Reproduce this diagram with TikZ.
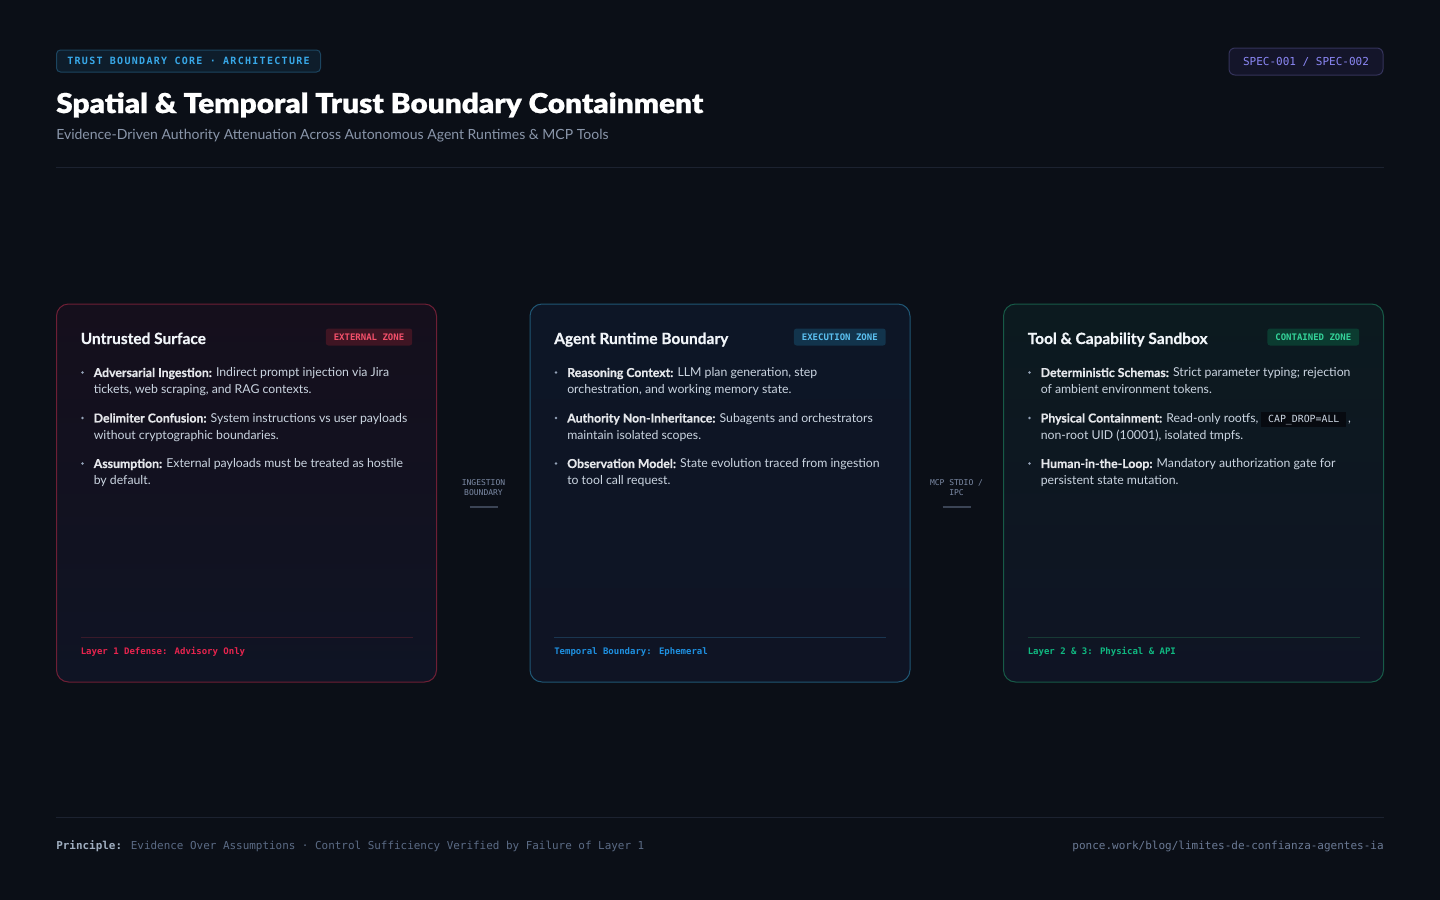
\documentclass[tikz,border=0pt]{standalone}
\usepackage{fontspec}
\setmainfont{Lato}[BoldFeatures={FakeBold=0.6}]
\newfontfamily\titlefont{Lato Black}[FakeStretch=1.09,FakeBold=0.8]
\newfontfamily\mono{DejaVu Sans Mono}
\newfontfamily\monosp[LetterSpace=13]{DejaVu Sans Mono}
\usetikzlibrary{calc}
\definecolor{bg}{HTML}{0B0F17}
\definecolor{sepline}{HTML}{1C2230}
\definecolor{subtxt}{HTML}{8A96AA}
\definecolor{cardtitle}{HTML}{F1F5F9}
\definecolor{bodytxt}{HTML}{CBD5E1}
\definecolor{boldtxt}{HTML}{E5E7EB}
\definecolor{dot}{HTML}{94A3B8}
\definecolor{redb}{HTML}{6E1F35}
\definecolor{redtop}{HTML}{150F1C}
\definecolor{redsep}{HTML}{3A1A2A}
\definecolor{redtxt}{HTML}{E8244E}
\definecolor{redbadge}{HTML}{3F1523}
\definecolor{redbadgetxt}{HTML}{F4506A}
\definecolor{blueb}{HTML}{1F5674}
\definecolor{bluetop}{HTML}{0D1626}
\definecolor{bluesep}{HTML}{1A3650}
\definecolor{bluetxt}{HTML}{1E90E0}
\definecolor{bluebadge}{HTML}{12344C}
\definecolor{bluebadgetxt}{HTML}{5BC0F0}
\definecolor{greenb}{HTML}{175A47}
\definecolor{greentop}{HTML}{0C1A1F}
\definecolor{greensep}{HTML}{173A35}
\definecolor{greentxt}{HTML}{10B981}
\definecolor{greenbadge}{HTML}{0B3B30}
\definecolor{greenbadgetxt}{HTML}{34D399}
\definecolor{cardbottom}{HTML}{0F1424}
\definecolor{topbadgefill}{HTML}{0E1D2B}
\definecolor{topbadgedraw}{HTML}{1C4560}
\definecolor{topbadgetxt}{HTML}{38A8E8}
\definecolor{specfill}{HTML}{14152A}
\definecolor{specdraw}{HTML}{34335A}
\definecolor{spectxt}{HTML}{8B87F5}
\definecolor{conntxt}{HTML}{7C8AA5}
\definecolor{connbar}{HTML}{3B4455}
\definecolor{footbold}{HTML}{A0AEC0}
\definecolor{foottxt}{HTML}{5B6B85}
\definecolor{urltxt}{HTML}{6B7A95}
\definecolor{codebg}{HTML}{070A10}
\newcommand\codechip[1]{{\setlength\fboxsep{0pt}\colorbox{codebg}{\rule[-3.4pt]{0pt}{11pt}\hspace{5pt}{\fontsize{7.4pt}{8pt}\selectfont\mono\color{bodytxt}#1}\hspace{5pt}}}}
\begin{document}
\begin{tikzpicture}[x=0.75pt,y=-0.75pt,
  cardbox/.style={draw=#1, line width=0.75pt, rounded corners=9pt,
    minimum width=285pt, minimum height=283.5pt, inner sep=0pt},
  cardhead/.style={anchor=base west, inner sep=0pt, text=cardtitle,
    font=\fontsize{11.6pt}{13pt}\selectfont\bfseries},
  zonebadge/.style={anchor=east, inner sep=0pt, minimum height=12.75pt,
    inner xsep=6pt, rounded corners=2pt,
    font=\fontsize{6.75pt}{8pt}\selectfont\mono\bfseries},
  item/.style={anchor=base west, inner sep=0pt, align=left, text=bodytxt,
    font=\fontsize{9.2pt}{12.4pt}\selectfont},
  cardfoot/.style={anchor=base west, inner sep=0pt,
    font=\fontsize{6.75pt}{8pt}\selectfont\mono\bfseries},
  connlabel/.style={inner sep=0pt, align=center, text=conntxt,
    font=\fontsize{6pt}{7.5pt}\selectfont\mono},
  connbarline/.style={draw=connbar, line width=1.5pt},
  bl/.style={fill=dot}
]
\useasboundingbox (0,0) rectangle (1440,900);
\fill[bg] (0,0) rectangle (1440,900);

% header
\node (tag) [draw=topbadgedraw, fill=topbadgefill, line width=0.75pt,
  rounded corners=3pt, minimum width=198pt, minimum height=16.5pt, inner sep=0pt,
  text=topbadgetxt, font=\fontsize{7.5pt}{9pt}\selectfont\monosp\bfseries]
  at (188.5,61) {TRUST BOUNDARY CORE · ARCHITECTURE};
\node (spec) [draw=specdraw, fill=specfill, line width=0.75pt,
  rounded corners=4.5pt, minimum width=115.5pt, minimum height=20.25pt, inner sep=0pt,
  text=spectxt, font=\fontsize{8.25pt}{10pt}\selectfont\mono]
  at (1306,61.5) {SPEC-001 / SPEC-002};
\node (title) [anchor=base west, inner sep=0pt, text=white,
  font=\fontsize{20.5pt}{24pt}\selectfont\titlefont] at (56,113)
  {Spatial \& Temporal Trust Boundary Containment};
\node (subtitle) [anchor=base west, inner sep=0pt, text=subtxt,
  font=\fontsize{10.5pt}{12pt}\selectfont] at (56,139)
  {Evidence-Driven Authority Attenuation Across Autonomous Agent Runtimes \& MCP Tools};
\draw[sepline, line width=0.75pt] (56,167.5) -- (1384,167.5);

% cards
\node (c1) [cardbox=redb, top color=redtop, bottom color=cardbottom] at (246.5,493) {};
\node (c2) [cardbox=blueb, top color=bluetop, bottom color=cardbottom] at (720,493) {};
\node (c3) [cardbox=greenb, top color=greentop, bottom color=cardbottom] at (1193.5,493) {};

% card 1
\node (c1title) [cardhead] at ($(c1.north west)+(24.5,40.5)$) {Untrusted Surface};
\node (c1badge) [zonebadge, fill=redbadge, text=redbadgetxt] at ($(c1.north east)+(-24.5,33.5)$) {EXTERNAL ZONE};
\fill[bl] ($(c1.north west)+(26.5,69)$) circle (1.1pt);
\node (c1i1) [item] at ($(c1.north west)+(37.5,90)$)
  {{\bfseries\color{boldtxt}Adversarial Ingestion:} Indirect prompt injection via Jira\\tickets, web scraping, and RAG contexts.};
\fill[bl] ($(c1.north west)+(26.5,114.5)$) circle (1.1pt);
\node (c1i2) [item] at ($(c1.north west)+(37.5,135.5)$)
  {{\bfseries\color{boldtxt}Delimiter Confusion:} System instructions vs user payloads\\without cryptographic boundaries.};
\fill[bl] ($(c1.north west)+(26.5,160)$) circle (1.1pt);
\node (c1i3) [item] at ($(c1.north west)+(37.5,181)$)
  {{\bfseries\color{boldtxt}Assumption:} External payloads must be treated as hostile\\by default.};
\draw[redsep, line width=0.75pt] ($(c1.north west)+(24.5,333.5)$) -- ($(c1.north east)+(-24.5,333.5)$);
\node (c1foot) [cardfoot, text=redtxt] at ($(c1.north west)+(24.5,351)$) {Layer 1 Defense: Advisory Only};

% card 2
\node (c2title) [cardhead] at ($(c2.north west)+(24.5,40.5)$) {Agent Runtime Boundary};
\node (c2badge) [zonebadge, fill=bluebadge, text=bluebadgetxt] at ($(c2.north east)+(-24.5,33.5)$) {EXECUTION ZONE};
\fill[bl] ($(c2.north west)+(26.5,69)$) circle (1.1pt);
\node (c2i1) [item] at ($(c2.north west)+(37.5,90)$)
  {{\bfseries\color{boldtxt}Reasoning Context:} LLM plan generation, step\\orchestration, and working memory state.};
\fill[bl] ($(c2.north west)+(26.5,114.5)$) circle (1.1pt);
\node (c2i2) [item] at ($(c2.north west)+(37.5,135.5)$)
  {{\bfseries\color{boldtxt}Authority Non-Inheritance:} Subagents and orchestrators\\maintain isolated scopes.};
\fill[bl] ($(c2.north west)+(26.5,160)$) circle (1.1pt);
\node (c2i3) [item] at ($(c2.north west)+(37.5,181)$)
  {{\bfseries\color{boldtxt}Observation Model:} State evolution traced from ingestion\\to tool call request.};
\draw[bluesep, line width=0.75pt] ($(c2.north west)+(24.5,333.5)$) -- ($(c2.north east)+(-24.5,333.5)$);
\node (c2foot) [cardfoot, text=bluetxt] at ($(c2.north west)+(24.5,351)$) {Temporal Boundary: Ephemeral};

% card 3
\node (c3title) [cardhead] at ($(c3.north west)+(24.5,40.5)$) {Tool \& Capability Sandbox};
\node (c3badge) [zonebadge, fill=greenbadge, text=greenbadgetxt] at ($(c3.north east)+(-24.5,33.5)$) {CONTAINED ZONE};
\fill[bl] ($(c3.north west)+(26.5,69)$) circle (1.1pt);
\node (c3i1) [item] at ($(c3.north west)+(37.5,90)$)
  {{\bfseries\color{boldtxt}Deterministic Schemas:} Strict parameter typing; rejection\\of ambient environment tokens.};
\fill[bl] ($(c3.north west)+(26.5,114.5)$) circle (1.1pt);
\node (c3i2) [item] at ($(c3.north west)+(37.5,135.5)$)
  {{\bfseries\color{boldtxt}Physical Containment:} Read-only rootfs, \codechip{CAP\_DROP=ALL}\,,\\non-root UID (10001), isolated tmpfs.};
\fill[bl] ($(c3.north west)+(26.5,160)$) circle (1.1pt);
\node (c3i3) [item] at ($(c3.north west)+(37.5,181)$)
  {{\bfseries\color{boldtxt}Human-in-the-Loop:} Mandatory authorization gate for\\persistent state mutation.};
\draw[greensep, line width=0.75pt] ($(c3.north west)+(24.5,333.5)$) -- ($(c3.north east)+(-24.5,333.5)$);
\node (c3foot) [cardfoot, text=greentxt] at ($(c3.north west)+(24.5,351)$) {Layer 2 \& 3: Physical \& API};

% connectors between cards
\node (conn1) [connlabel] at (483.5,488) {INGESTION\\BOUNDARY};
\draw[connbarline] ($(conn1.south)+(-14,11)$) -- ($(conn1.south)+(14,11)$);
\node (conn2) [connlabel] at (956.5,488) {MCP STDIO /\\IPC};
\draw[connbarline] ($(conn2.south)+(-14,11)$) -- ($(conn2.south)+(14,11)$);

% footer
\draw[sepline, line width=0.75pt] (56,817.5) -- (1384,817.5);
\node (principle) [anchor=base west, inner sep=0pt, text=foottxt,
  font=\fontsize{8.2pt}{10pt}\selectfont\mono] at (56,849)
  {{\bfseries\color{footbold}Principle:} Evidence Over Assumptions · Control Sufficiency Verified by Failure of Layer 1};
\node (url) [anchor=base east, inner sep=0pt, text=urltxt,
  font=\fontsize{8.25pt}{10pt}\selectfont\mono] at (1384,849)
  {ponce.work/blog/limites-de-confianza-agentes-ia};
\end{tikzpicture}
\end{document}
